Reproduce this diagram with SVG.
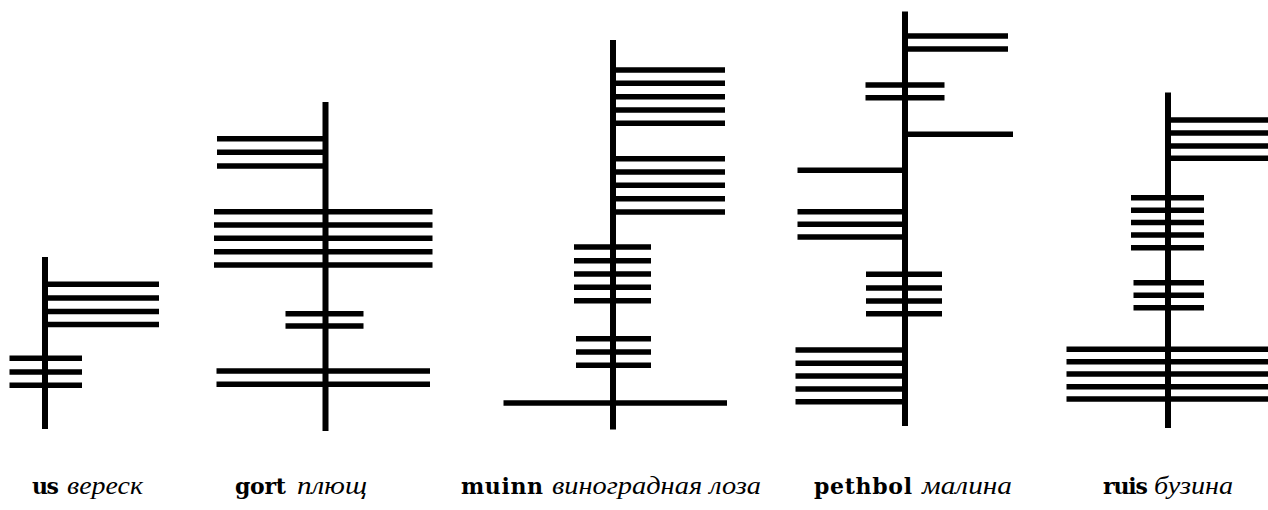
<svg xmlns="http://www.w3.org/2000/svg" width="1268" height="510" viewBox="0 0 1268 510">
<style>
.stem{stroke:#000;stroke-width:6;fill:none}
.bar{stroke:#000;stroke-width:5.5;fill:none}
.b{font-family:"DejaVu Serif","Liberation Serif",serif;font-size:22px;font-weight:bold;fill:#000}
.i{font-family:"Liberation Serif","DejaVu Serif",serif;font-size:26px;font-style:italic;fill:#000}
</style>
<rect width="1268" height="510" fill="#fff"/>
<g id="us">
<line class="stem" x1="45" y1="257" x2="45" y2="429"/>
<path class="bar" d="M45 284.3H159M45 298H159M45 311.5H159M45 324.5H159M9.5 358.3H82M9.5 372H82M9.5 385.3H82"/>
</g>
<g id="gort">
<line class="stem" x1="325.5" y1="102" x2="325.5" y2="431"/>
<path class="bar" d="M217 138.7H325.5M217 152.3H325.5M217 166H325.5M214 211.7H432.5M214 225H432.5M214 238.3H432.5M214 251.7H432.5M214 265H432.5M285.5 313.7H363.5M285.5 326H363.5M216.5 371H430M216.5 384.3H430"/>
</g>
<g id="muinn">
<line class="stem" x1="613" y1="40" x2="613" y2="429.5"/>
<path class="bar" d="M613 70H725M613 83.3H725M613 96.7H725M613 110H725M613 123.3H725M613 158.7H725M613 172H725M613 185.3H725M613 198.7H725M613 212H725M574 247H651M574 260.7H651M574 274H651M574 287.3H651M574 300.7H651M576 338.7H651M576 352H651M576 365.3H651M503.5 403H727"/>
</g>
<g id="pethbol">
<line class="stem" x1="905" y1="11.5" x2="905" y2="426"/>
<path class="bar" d="M905 36H1008M905 49H1008M865.5 85H944.5M865.5 97.7H944.5M905 134.3H1013M797.5 170.3H905M797.5 211.7H905M797.5 224.3H905M797.5 237H905M866 274.3H942M866 288H942M866 301H942M866 313.7H942M795.5 350H905M795.5 363.3H905M795.5 376H905M795.5 389H905M795.5 401.7H905"/>
</g>
<g id="ruis">
<line class="stem" x1="1168" y1="92.5" x2="1168" y2="428"/>
<path class="bar" d="M1168 120H1268M1168 133H1268M1168 146H1268M1168 158.3H1268M1131 197.7H1204M1131 210.3H1204M1131 222.5H1204M1131 235H1204M1131 247.7H1204M1133.5 282.7H1204M1133.5 295.3H1204M1133.5 307.7H1204M1066.5 349.3H1268M1066.5 361.7H1268M1066.5 374H1268M1066.5 386.7H1268M1066.5 399H1268"/>
</g>
<g id="labels">
<text class="b" x="32" y="494" textLength="27">us</text>
<text class="i" x="67" y="494" textLength="76" lengthAdjust="spacingAndGlyphs">вереск</text>
<text class="b" x="235" y="494" textLength="51">gort</text>
<text class="i" x="297" y="494" textLength="70" lengthAdjust="spacingAndGlyphs">плющ</text>
<text class="b" x="461" y="494" textLength="82">muinn</text>
<text class="i" x="552" y="494" textLength="209" lengthAdjust="spacingAndGlyphs">виноградная лоза</text>
<text class="b" x="814" y="494" textLength="98">pethbol</text>
<text class="i" x="922" y="494" textLength="90" lengthAdjust="spacingAndGlyphs">малина</text>
<text class="b" x="1103" y="494" textLength="45">ruis</text>
<text class="i" x="1154" y="494" textLength="79" lengthAdjust="spacingAndGlyphs">бузина</text>
</g>
</svg>
